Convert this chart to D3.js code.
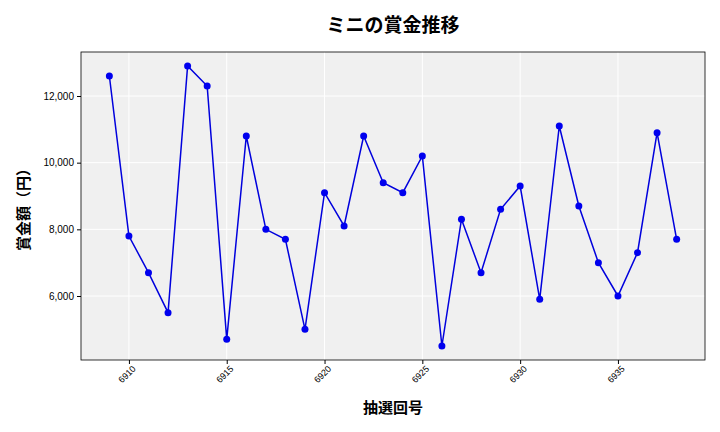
<!DOCTYPE html>
<html><head><meta charset="utf-8">
<script src="https://cdn.jsdelivr.net/npm/d3@7"></script>
<style>body{margin:0;background:#fff;font-family:"Noto Sans CJK JP","Noto Sans",sans-serif}</style>
</head><body><svg id="c" width="720" height="432"></svg>
<script>
const draws = d3.range(6909, 6939);
const prizes = [12600,7800,6700,5500,12900,12300,4700,10800,8000,7700,5000,9100,8100,10800,9400,9100,10200,4500,8300,6700,8600,9300,5900,11100,8700,7000,6000,7300,10900,7700];
const xTicks = [6910,6915,6920,6925,6930,6935];
const yTicks = [6000,8000,10000,12000];
const title = "ミニの賞金推移", xLabel = "抽選回号", yLabel = "賞金額（円）";

const svg = d3.select("#c");
const L=81,R=705,T=52,B=360;
const x = d3.scaleLinear().domain([6907.55,6939.45]).range([L,R]);
const y = d3.scaleLinear().domain([4080,13320]).range([B,T]);
svg.append("rect").attr("x",L).attr("y",T).attr("width",R-L).attr("height",B-T).attr("fill","#f0f0f0");
const g = svg.append("g");
xTicks.forEach(t=>g.append("line").attr("x1",x(t)).attr("x2",x(t)).attr("y1",T).attr("y2",B).attr("stroke","#fff").attr("stroke-width",1));
yTicks.forEach(t=>g.append("line").attr("x1",L).attr("x2",R).attr("y1",y(t)).attr("y2",y(t)).attr("stroke","#fff").attr("stroke-width",1));
svg.append("rect").attr("x",L).attr("y",T).attr("width",R-L).attr("height",B-T).attr("fill","none").attr("stroke","#000").attr("stroke-width",0.8);
const xa = svg.append("g").attr("transform",`translate(0,${B})`).call(d3.axisBottom(x).tickValues(xTicks).tickFormat(d3.format("d")).tickSize(4));
xa.select(".domain").remove();
xa.selectAll("text").attr("font-size",9).attr("text-anchor","end").attr("dx","-0.2em").attr("dy","0.5em").attr("transform","rotate(-45)");
const ya = svg.append("g").attr("transform",`translate(${L},0)`).call(d3.axisLeft(y).tickValues(yTicks).tickFormat(d3.format(",")).tickSize(4));
ya.select(".domain").remove();
ya.selectAll("text").attr("font-size",10);
const data = draws.map((d,i)=>({d,v:prizes[i]}));
svg.append("path").datum(data).attr("fill","none").attr("stroke","#0000dd").attr("stroke-width",1.5)
  .attr("d",d3.line().x(p=>x(p.d)).y(p=>y(p.v)));
svg.selectAll("circle.p").data(data).enter().append("circle").attr("cx",p=>x(p.d)).attr("cy",p=>y(p.v)).attr("r",3.5).attr("fill","#0000ee");
svg.append("text").attr("x",393).attr("y",32).attr("text-anchor","middle").attr("font-size",19).attr("font-weight","bold").text(title);
svg.append("text").attr("x",393).attr("y",413).attr("text-anchor","middle").attr("font-size",15).attr("font-weight","bold").text(xLabel);
svg.append("text").attr("transform","translate(29,206) rotate(-90)").attr("text-anchor","middle").attr("font-size",15).attr("font-weight","bold").text(yLabel);
</script></body></html>
